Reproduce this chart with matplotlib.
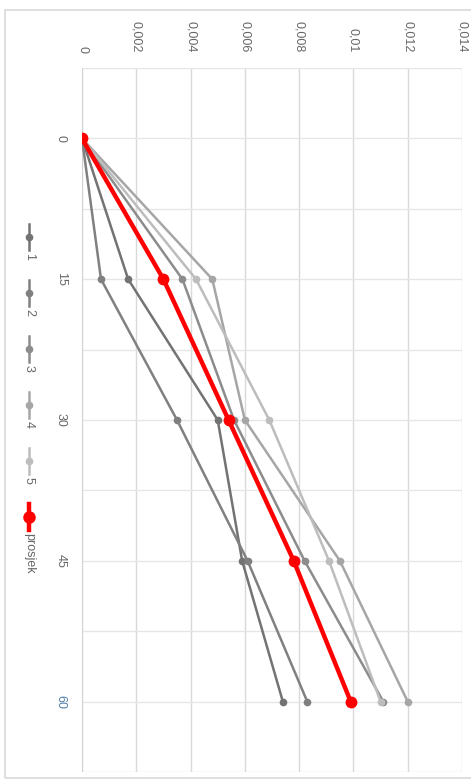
import numpy as np
import matplotlib
matplotlib.use('Agg')
import matplotlib.pyplot as plt
from matplotlib.patches import Rectangle
from matplotlib.lines import Line2D

# podaci (vrijeme u min, vrijednosti ocitane sa slike)
kategorije = ['0', '15', '30', '45', '60']
serija_1 = [0, 0.0017, 0.0050, 0.0059, 0.0074]
serija_2 = [0, 0.0007, 0.0035, 0.0061, 0.0083]
serija_3 = [0, 0.0037, 0.0056, 0.0082, 0.0111]
serija_4 = [0, 0.0048, 0.0060, 0.0095, 0.0120]
serija_5 = [0, 0.0042, 0.0069, 0.0091, 0.0110]
prosjek = [0, 0.0030, 0.0054, 0.0078, 0.0099]

nazivi = ['1', '2', '3', '4', '5', 'prosjek']
vrijednosti_osi = [0, 0.002, 0.004, 0.006, 0.008, 0.010, 0.012, 0.014]
oznake_osi = ['0', '0,002', '0,004', '0,006', '0,008', '0,01', '0,012', '0,014']

boje = ['#737373', '#808080', '#8c8c8c', '#a6a6a6', '#bdbdbd', '#ff0000']
serije = [serija_1, serija_2, serija_3, serija_4, serija_5, prosjek]

plt.rcParams['font.family'] = ['Liberation Sans', 'DejaVu Sans']

W, H = 471, 781
fig = plt.figure(figsize=(W / 100, H / 100), dpi=100)
fig.patch.set_facecolor('white')

# okvir grafikona
fig.patches.append(Rectangle((5 / W, 1 - 778 / H), 1.2, (778 - 10) / H,
                             transform=fig.transFigure, fill=False,
                             edgecolor='#d9d9d9', linewidth=1.2))

# graf je zarotiran za 90 stupnjeva: vrijednost ide vodoravno, vrijeme okomito
ax = fig.add_axes([82 / W, 1 - 772 / H, 380 / W, 704 / H])
pozicije = np.arange(len(kategorije))

for i, (s, c) in enumerate(zip(serije, boje)):
    if nazivi[i] == 'prosjek':
        ax.plot(s, pozicije, color=c, lw=3.2, marker='o', ms=7.5, zorder=5,
                solid_capstyle='round')
    else:
        ax.plot(s, pozicije, color=c, lw=1.8, marker='o', ms=4.5, zorder=3)

ax.set_xlim(0, 0.014)
ax.set_ylim(4.5, -0.5)

ax.xaxis.tick_top()
ax.set_xticks(vrijednosti_osi)
ax.set_xticklabels(oznake_osi, rotation=270, fontsize=9, color='#666666')
ax.tick_params(axis='x', length=0, pad=11)

ax.set_yticks(pozicije)
ax.set_yticklabels(kategorije, rotation=270, fontsize=9, va='center')
ax.tick_params(axis='y', length=0, pad=11, labelcolor='#666666')
ax.get_yticklabels()[-1].set_color('#4f7ea8')

# mreza: okomite linije na svakoj vrijednosti, vodoravne svakih pola kategorije
ax.set_yticks(np.arange(-0.5, 4.6, 1.0), minor=True)
ax.tick_params(axis='y', which='minor', length=0)
ax.grid(axis='x', which='major', color='#d9d9d9', lw=1)
ax.grid(axis='y', which='both', color='#e6e6e6', lw=1)
ax.set_axisbelow(True)
for sp in ax.spines.values():
    sp.set_visible(False)
ax.axvline(0, color='#d0d0d0', lw=1.2, zorder=1)

# legenda (okomita, rucno slozena)
lx = 29 / W
for i, (naziv, c) in enumerate(zip(nazivi, boje)):
    cy = 237 + 56 * i
    if naziv == 'prosjek':
        lw, ms = 3.2, 8
    else:
        lw, ms = 1.8, 4.5
    fig.add_artist(Line2D([lx, lx], [1 - (cy - 13) / H, 1 - (cy + 13) / H],
                          color=c, lw=lw, marker=None, transform=fig.transFigure))
    fig.add_artist(Line2D([lx], [1 - cy / H], color=c, marker='o', ms=ms,
                          transform=fig.transFigure))
    fig.text(lx, 1 - (cy + 16) / H, naziv, rotation=270, ha='center', va='top',
             fontsize=9, color='#666666')

fig.savefig('out.png', dpi=100)
